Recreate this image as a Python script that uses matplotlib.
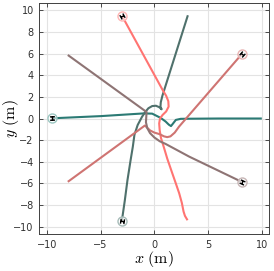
import numpy as np
import matplotlib
matplotlib.use("Agg")
import matplotlib.pyplot as plt
from matplotlib.path import Path
from matplotlib.markers import MarkerStyle
from matplotlib.transforms import Affine2D

plt.rcParams['mathtext.fontset'] = 'cm'

# Agent trajectories (x, y in metres)
teal_x = [-9.5, -5.0, -1.0, -0.2, 0.6, 1.05, 1.35, 1.55, 1.75, 2.0, 2.45, 3.2, 6.0, 10.0]
teal_y = [0.02, 0.22, 0.47, 0.45, 0.05, -0.28, -0.57, -0.7, -0.45, -0.13, -0.03, -0.02, 0.0, 0.0]

slate_x = [-3.02, -2.75, -2.5, -2.2, -2.0, -1.85, -1.55, -1.15, -0.85, -0.55, -0.2, 0.15, 0.45, 0.68, 0.57, 0.6, 0.75, 3.12]
slate_y = [-9.45, -7.6, -5.7, -3.8, -2.6, -1.5, -0.6, 0.15, 0.6, 0.95, 1.15, 1.18, 1.05, 0.85, 1.1, 1.5, 2.1, 9.54]

salmon_x = [-3.02, 0.77, 1.1, 1.3, 1.33, 1.1, 0.77, 0.53, 0.45, 0.5, 0.62, 0.93, 1.2, 1.65, 2.0, 2.31, 2.56, 2.72, 2.85, 3.09]
salmon_y = [9.51, 2.64, 2.1, 1.6, 1.1, 0.65, 0.33, 0.0, -0.45, -1.1, -1.8, -2.8, -3.7, -5.0, -6.0, -6.9, -7.8, -8.6, -9.0, -9.4]

rose_x = [8.12, 2.3, 1.9, 1.5, 1.2, 0.9, 0.5, 0.0, -0.4, -0.7, -0.88, -8.05]
rose_y = [5.93, -0.75, -1.3, -1.65, -1.72, -1.65, -1.45, -1.3, -1.1, -0.82, -0.65, -5.85]

mauve_x = [8.12, 3.24, 1.05, 0.5, 0.0, -0.4, -0.65, -0.78, -0.75, -0.72, -8.05]
mauve_y = [-5.85, -3.52, -2.35, -2.1, -1.75, -1.35, -0.9, -0.35, 0.15, 0.6, 5.87]

agents = [
    (teal_x, teal_y, '#2b7a74', '#9cc7c2'),
    (slate_x, slate_y, '#4f716c', '#a7bcb9'),
    (salmon_x, salmon_y, '#ff7472', '#ffb5b3'),
    (rose_x, rose_y, '#cf7472', '#e8b3b2'),
    (mauve_x, mauve_y, '#8e7474', '#c7b6b6'),
]

fig = plt.figure(figsize=(2.74, 2.71), dpi=100)
ax = fig.add_axes([0.1435, 0.1354, 0.8395, 0.8546])

# robot icon: two wheels + axle
verts = [(-1, -0.7), (1, -0.7), (0, -0.7), (0, 0.7), (-1, 0.7), (1, 0.7)]
codes = [Path.MOVETO, Path.LINETO, Path.MOVETO, Path.LINETO, Path.MOVETO, Path.LINETO]
robot = Path(verts, codes)

for xs, ys, col, light in agents:
    ax.plot(xs, ys, color=col, lw=1.5, solid_capstyle='butt', zorder=3)
for xs, ys, col, light in agents:
    ang = np.degrees(np.arctan2(ys[1] - ys[0], xs[1] - xs[0]))
    ax.plot(xs[0], ys[0], marker='o', ms=6.5, mfc=(1, 1, 1, 0.6), mec=light, mew=1.0, zorder=4)
    ms = MarkerStyle(robot, transform=Affine2D().rotate_deg(ang))
    ax.plot(xs[0], ys[0], marker=ms, ms=3.5, color='black', mew=1.0, zorder=5)

ax.set_xlim(-10.7, 10.7)
ax.set_ylim(-10.7, 10.7)
ax.set_xticks([-10, -5, 0, 5, 10])
ax.set_yticks(np.arange(-10, 11, 2))
ax.grid(True, color='#e3e3e3', lw=0.8, zorder=0)
ax.set_axisbelow(True)
ax.tick_params(direction='in', length=3, width=0.6, top=True, right=True,
               labelsize=7, colors='#303030', pad=4)
for s in ax.spines.values():
    s.set_color('#404040')
    s.set_linewidth(0.7)
ax.set_xlabel(r'$x\ (\mathrm{m})$', fontsize=11.5, va='center')
ax.set_ylabel(r'$y\ (\mathrm{m})$', fontsize=11.5, va='center')
ax.xaxis.set_label_coords(0.5, -0.107)
ax.yaxis.set_label_coords(-0.122, 0.5)

fig.savefig('out.png', dpi=100)
